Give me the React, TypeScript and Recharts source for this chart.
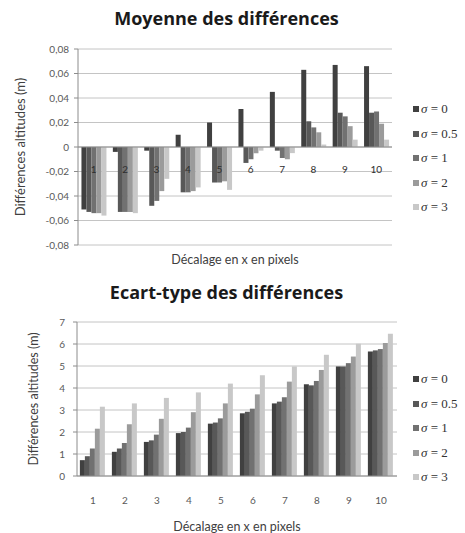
import React from "react";
import {
  Bar,
  CartesianGrid,
  ComposedChart,
  LabelList,
  Line,
  ReferenceLine,
  XAxis,
  YAxis
} from "recharts";

const categories = ["1", "2", "3", "4", "5", "6", "7", "8", "9", "10"];
const seriesNames = ["σ = 0", "σ = 0.5", "σ = 1", "σ = 2", "σ = 3"];
const seriesColors = ["#404040", "#585858", "#717171", "#9b9b9b", "#c8c8c8"];

// Moyenne des différences (m)
const meanSigma0 = [-0.051, -0.004, -0.003, 0.01, 0.02, 0.031, 0.045, 0.063, 0.067, 0.066];
const meanSigma05 = [-0.053, -0.053, -0.048, -0.037, -0.029, -0.013, -0.003, 0.021, 0.028, 0.028];
const meanSigma1 = [-0.054, -0.053, -0.044, -0.037, -0.029, -0.01, -0.009, 0.016, 0.025, 0.029];
const meanSigma2 = [-0.054, -0.053, -0.036, -0.036, -0.028, -0.005, -0.01, 0.012, 0.017, 0.019];
const meanSigma3 = [-0.056, -0.054, -0.026, -0.033, -0.035, -0.003, -0.005, 0.002, 0.006, 0.006];
const meanTicks = [-0.08, -0.06, -0.04, -0.02, 0, 0.02, 0.04, 0.06, 0.08];

// Ecart-type des différences (m)
const stdSigma0 = [0.72, 1.1, 1.55, 1.95, 2.38, 2.85, 3.3, 4.17, 4.98, 5.66];
const stdSigma05 = [0.9, 1.25, 1.62, 2.0, 2.43, 2.92, 3.38, 4.12, 4.98, 5.71];
const stdSigma1 = [1.25, 1.5, 1.88, 2.2, 2.62, 3.06, 3.58, 4.32, 5.13, 5.77];
const stdSigma2 = [2.15, 2.35, 2.6, 2.9, 3.3, 3.71, 4.29, 4.82, 5.43, 6.04];
const stdSigma3 = [3.15, 3.3, 3.55, 3.8, 4.2, 4.58, 4.98, 5.51, 6.01, 6.47];
const stdTicks = [0, 1, 2, 3, 4, 5, 6, 7];

const keys = ["s0", "s05", "s1", "s2", "s3"];

const meanData = categories.map((c, i) => ({
  x: c,
  s0: meanSigma0[i],
  s05: meanSigma05[i],
  s1: meanSigma1[i],
  s2: meanSigma2[i],
  s3: meanSigma3[i]
}));

const stdData = categories.map((c, i) => ({
  x: c,
  s0: stdSigma0[i],
  s05: stdSigma05[i],
  s1: stdSigma1[i],
  s2: stdSigma2[i],
  s3: stdSigma3[i]
}));

const font = "Lato, 'Open Sans', sans-serif";
const tickStyle = { fontSize: 10, fill: "#595959", fontFamily: font };

function formatComma(value: number) {
  if (value === 0) return "0";
  return value.toFixed(2).replace(".", ",");
}

function Title({ text, top }: { text: string; top: number }) {
  return (
    <div
      style={{
        position: "absolute",
        top,
        left: 0,
        width: 453,
        textAlign: "center",
        fontFamily: "'Open Sans', sans-serif",
        fontWeight: 700,
        fontSize: 18,
        color: "#1a1a1a"
      }}
    >
      {text}
    </div>
  );
}

function SigmaLegend({ left, top, gap }: { left: number; top: number; gap: number }) {
  return (
    <div style={{ position: "absolute", left, top }}>
      {seriesNames.map((name, i) => (
        <div
          key={name}
          style={{
            position: "absolute",
            top: i * gap,
            left: 0,
            display: "flex",
            alignItems: "center",
            whiteSpace: "nowrap",
            fontFamily: "'Liberation Serif', serif",
            fontSize: 13,
            color: "#333"
          }}
        >
          <span style={{ width: 6, height: 6, background: seriesColors[i], marginRight: 2 }} />
          <span>
            <i>σ</i>
            {name.slice(1)}
          </span>
        </div>
      ))}
    </div>
  );
}

function yLabel(offset: number, size: number) {
  return {
    value: "Différences  altitudes (m)",
    angle: -90,
    position: "insideLeft" as const,
    offset,
    style: { textAnchor: "middle", fontSize: size, fill: "#404040", fontFamily: font }
  };
}

function xLabel(offset: number) {
  return {
    value: "Décalage en x en pixels",
    position: "insideBottom" as const,
    offset,
    style: { fontSize: 12.5, fill: "#404040", fontFamily: font }
  };
}

export default function App() {
  return (
    <div style={{ position: "absolute", left: 0, top: 0, width: 465, height: 533, background: "#fff", overflow: "hidden" }}>
      <Title text="Moyenne des différences" top={6} />
      <div style={{ position: "absolute", left: 0, top: 0 }}>
        <ComposedChart
          width={465}
          height={270}
          data={meanData}
          margin={{ top: 49, right: 73, bottom: 0, left: 0 }}
          barCategoryGap="11%"
          barGap={0}
        >
          <CartesianGrid stroke="#c4c4c4" vertical={false} />
          <XAxis dataKey="x" height={25} tick={false} axisLine={false} tickLine={false} label={xLabel(6)} />
          <YAxis
            width={78}
            domain={[-0.08, 0.08]}
            ticks={meanTicks}
            tickFormatter={formatComma}
            tick={tickStyle}
            tickSize={4}
            tickMargin={5}
            stroke="#8c8c8c"
            interval={0}
            label={yLabel(20, 13)}
          />
          <ReferenceLine y={0} stroke="#8c8c8c" />
          {keys.map((k, i) => (
            <Bar key={k} dataKey={k} fill={seriesColors[i]} isAnimationActive={false} />
          ))}
          <Line dataKey={() => 0} stroke="none" dot={false} activeDot={false} isAnimationActive={false} legendType="none">
            <LabelList dataKey="x" position="bottom" offset={19} style={{ fontSize: 10, fill: "#2e2e2e", fontFamily: font }} />
          </Line>
        </ComposedChart>
      </div>
      <SigmaLegend left={413} top={101} gap={24.5} />

      <Title text="Ecart-type des différences" top={280} />
      <div style={{ position: "absolute", left: 0, top: 270 }}>
        <ComposedChart
          width={465}
          height={263}
          data={stdData}
          margin={{ top: 52, right: 68, bottom: 0, left: 0 }}
          barCategoryGap="9%"
          barGap={0}
        >
          <CartesianGrid stroke="#c4c4c4" vertical={false} />
          <XAxis
            dataKey="x"
            height={57}
            tick={tickStyle}
            tickLine={false}
            tickMargin={15}
            stroke="#8c8c8c"
            interval={0}
            label={xLabel(2)}
          />
          <YAxis
            width={77}
            domain={[0, 7]}
            ticks={stdTicks}
            tick={tickStyle}
            tickSize={4}
            tickMargin={8}
            stroke="#8c8c8c"
            interval={0}
            label={yLabel(34, 12.5)}
          />
          {keys.map((k, i) => (
            <Bar key={k} dataKey={k} fill={seriesColors[i]} isAnimationActive={false} />
          ))}
        </ComposedChart>
      </div>
      <SigmaLegend left={413} top={371} gap={24.5} />
    </div>
  );
}
